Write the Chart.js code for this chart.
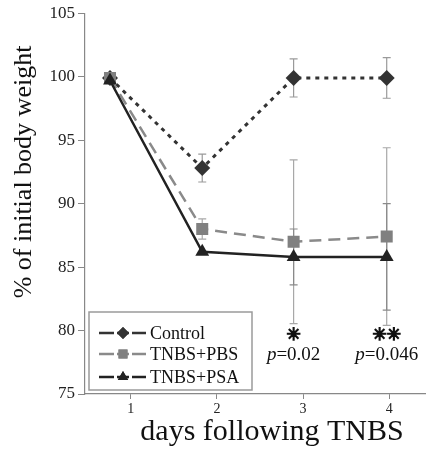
<!DOCTYPE html>
<html>
<head>
<meta charset="utf-8">
<script src="https://cdn.jsdelivr.net/npm/chart.js@4"></script>
<style>
  html, body { margin: 0; padding: 0; background: #fff; }
  #wrap { width: 434px; height: 453px; }
</style>
</head>
<body>
<div id="wrap"><canvas id="chart" width="434" height="453"></canvas></div>
<script>
// values
const days = [0.76, 1.83, 2.89, 3.97];
const xTicks = [1, 2, 3, 4];
const yTicks = [75, 80, 85, 90, 95, 100, 105];

const controlMean = [99.9, 92.8, 99.9, 99.9];
const controlErr = [0, 1.1, 1.5, 1.6];
const pbsMean = [99.9, 88.0, 87.0, 87.4];
const pbsErr = [0, 0.8, 6.45, 7.0];
const psaMean = [99.7, 86.2, 85.8, 85.8];
const psaErr = [0, 0, 2.2, 4.2];

const starLabels = ['', '', '\u2733', '\u2733\u2733'];
const pLabels = ['', '', '0.02', '0.046'];

const serif = '"Liberation Serif", "DejaVu Serif", serif';

function pts(mean) {
  return days.map((d, i) => ({ x: d, y: mean[i] }));
}

// error bars, drawn under the lines
const errorBars = {
  id: 'errorBars',
  beforeDatasetsDraw(chart) {
    const { ctx, scales: { x, y } } = chart;
    const sets = [
      { mean: controlMean, err: controlErr, color: '#9a9a9a' },
      { mean: pbsMean, err: pbsErr, color: '#a8a8a8' },
      { mean: psaMean, err: psaErr, color: '#8a8a8a' }
    ];
    ctx.save();
    ctx.lineWidth = 1.2;
    sets.forEach(s => {
      ctx.strokeStyle = s.color;
      days.forEach((d, i) => {
        if (!s.err[i]) return;
        const px = x.getPixelForValue(d);
        const top = y.getPixelForValue(s.mean[i] + s.err[i]);
        const bot = y.getPixelForValue(s.mean[i] - s.err[i]);
        ctx.beginPath();
        ctx.moveTo(px, top); ctx.lineTo(px, bot);
        ctx.moveTo(px - 4, top); ctx.lineTo(px + 4, top);
        ctx.moveTo(px - 4, bot); ctx.lineTo(px + 4, bot);
        ctx.stroke();
      });
    });
    ctx.restore();
  }
};

// legend box, stars, p-values and axis titles
const extras = {
  id: 'extras',
  afterDraw(chart) {
    const { ctx, chartArea: ca, scales: { x, y } } = chart;
    ctx.save();

    // legend
    const lx = ca.left + 4, ly = 312, lw = 163, lh = 78;
    ctx.fillStyle = '#fff';
    ctx.fillRect(lx, ly, lw, lh);
    ctx.strokeStyle = '#9a9a9a';
    ctx.lineWidth = 1.5;
    ctx.strokeRect(lx, ly, lw, lh);
    const rows = [333, 354, 377];
    chart.data.datasets.forEach((ds, i) => {
      const ry = rows[i];
      ctx.strokeStyle = ds.borderColor;
      ctx.lineWidth = 2.5;
      ctx.setLineDash([]);
      ctx.beginPath();
      ctx.moveTo(lx + 10, ry);
      ctx.lineTo(lx + 57, ry);
      ctx.stroke();
      ctx.fillStyle = '#fff';
      ctx.fillRect(lx + 25, ry - 3, 3, 6);
      ctx.fillRect(lx + 40, ry - 3, 3, 6);
      ctx.fillStyle = ds.pointBackgroundColor;
      Chart.helpers.drawPoint(ctx, {
        pointStyle: ds.pointStyle, radius: ds.pointRadius * 0.75, rotation: 0, borderWidth: 0
      }, lx + 34, ry);
      ctx.fill();
      ctx.fillStyle = '#111';
      ctx.font = '18px ' + serif;
      ctx.textBaseline = 'middle';
      ctx.textAlign = 'left';
      ctx.fillText(ds.label, lx + 61, ry + 1);
    });

    // significance marks
    days.forEach((d, i) => {
      if (!starLabels[i]) return;
      const px = x.getPixelForValue(d);
      ctx.fillStyle = '#111';
      ctx.strokeStyle = '#111';
      ctx.lineWidth = 1.3;
      ctx.textAlign = 'center';
      ctx.textBaseline = 'middle';
      ctx.font = 'bold 17px "DejaVu Sans", sans-serif';
      const sy = y.getPixelForValue(79.6);
      ctx.fillText(starLabels[i], px, sy);
      ctx.strokeText(starLabels[i], px, sy);
      const py = y.getPixelForValue(78.05);
      ctx.font = 'italic 19px ' + serif;
      const pW = ctx.measureText('p').width;
      ctx.font = '19px ' + serif;
      const rest = '=' + pLabels[i];
      const rW = ctx.measureText(rest).width;
      const start = px - (pW + rW) / 2;
      ctx.textAlign = 'left';
      ctx.font = 'italic 19px ' + serif;
      ctx.fillText('p', start, py);
      ctx.font = '19px ' + serif;
      ctx.fillText(rest, start + pW, py);
    });

    // axis titles
    ctx.fillStyle = '#111';
    ctx.textAlign = 'center';
    ctx.textBaseline = 'middle';
    ctx.font = '30px ' + serif;
    ctx.fillText('days following TNBS', 272, 432);
    ctx.translate(24, 172);
    ctx.rotate(-Math.PI / 2);
    ctx.font = '26px ' + serif;
    ctx.fillText('% of initial body weight', 0, 0);

    ctx.restore();
  }
};

new Chart(document.getElementById('chart'), {
  type: 'line',
  data: {
    datasets: [
      {
        label: 'Control',
        data: pts(controlMean),
        borderColor: '#333',
        borderWidth: 3,
        borderDash: [4, 5],
        pointStyle: 'rectRot',
        pointRadius: 8,
        pointBackgroundColor: '#333',
        pointBorderWidth: 0,
        order: 3
      },
      {
        label: 'TNBS+PBS',
        data: pts(pbsMean),
        borderColor: '#8a8a8a',
        borderWidth: 2.5,
        borderDash: [12, 7],
        pointStyle: 'rect',
        pointRadius: 8.5,
        pointBackgroundColor: '#808080',
        pointBorderWidth: 0,
        order: 2
      },
      {
        label: 'TNBS+PSA',
        data: pts(psaMean),
        borderColor: '#222',
        borderWidth: 2.5,
        pointStyle: 'triangle',
        pointRadius: 8,
        pointBackgroundColor: '#222',
        pointBorderWidth: 0,
        order: 1
      }
    ]
  },
  options: {
    responsive: false,
    animation: false,
    layout: { padding: { left: 0, top: 13, right: 0, bottom: 0 } },
    plugins: { legend: { display: false }, tooltip: { enabled: false } },
    scales: {
      x: {
        type: 'linear',
        min: 0.47,
        max: 4.42,
        afterBuildTicks: s => { s.ticks = xTicks.map(v => ({ value: v })); },
        afterFit: s => { s.height = 59; },
        grid: { drawOnChartArea: false, color: '#888', tickLength: 5 },
        border: { color: '#888', width: 1.2 },
        ticks: { font: { family: serif, size: 14 }, color: '#222', padding: 2 }
      },
      y: {
        min: 75,
        max: 105,
        afterBuildTicks: s => { s.ticks = yTicks.map(v => ({ value: v })); },
        afterFit: s => { s.width = 85; },
        grid: { drawOnChartArea: false, color: '#888', tickLength: 7 },
        border: { color: '#888', width: 1.2 },
        ticks: { font: { family: serif, size: 17 }, color: '#222', padding: 3 }
      }
    }
  },
  plugins: [errorBars, extras]
});
</script>
</body>
</html>
